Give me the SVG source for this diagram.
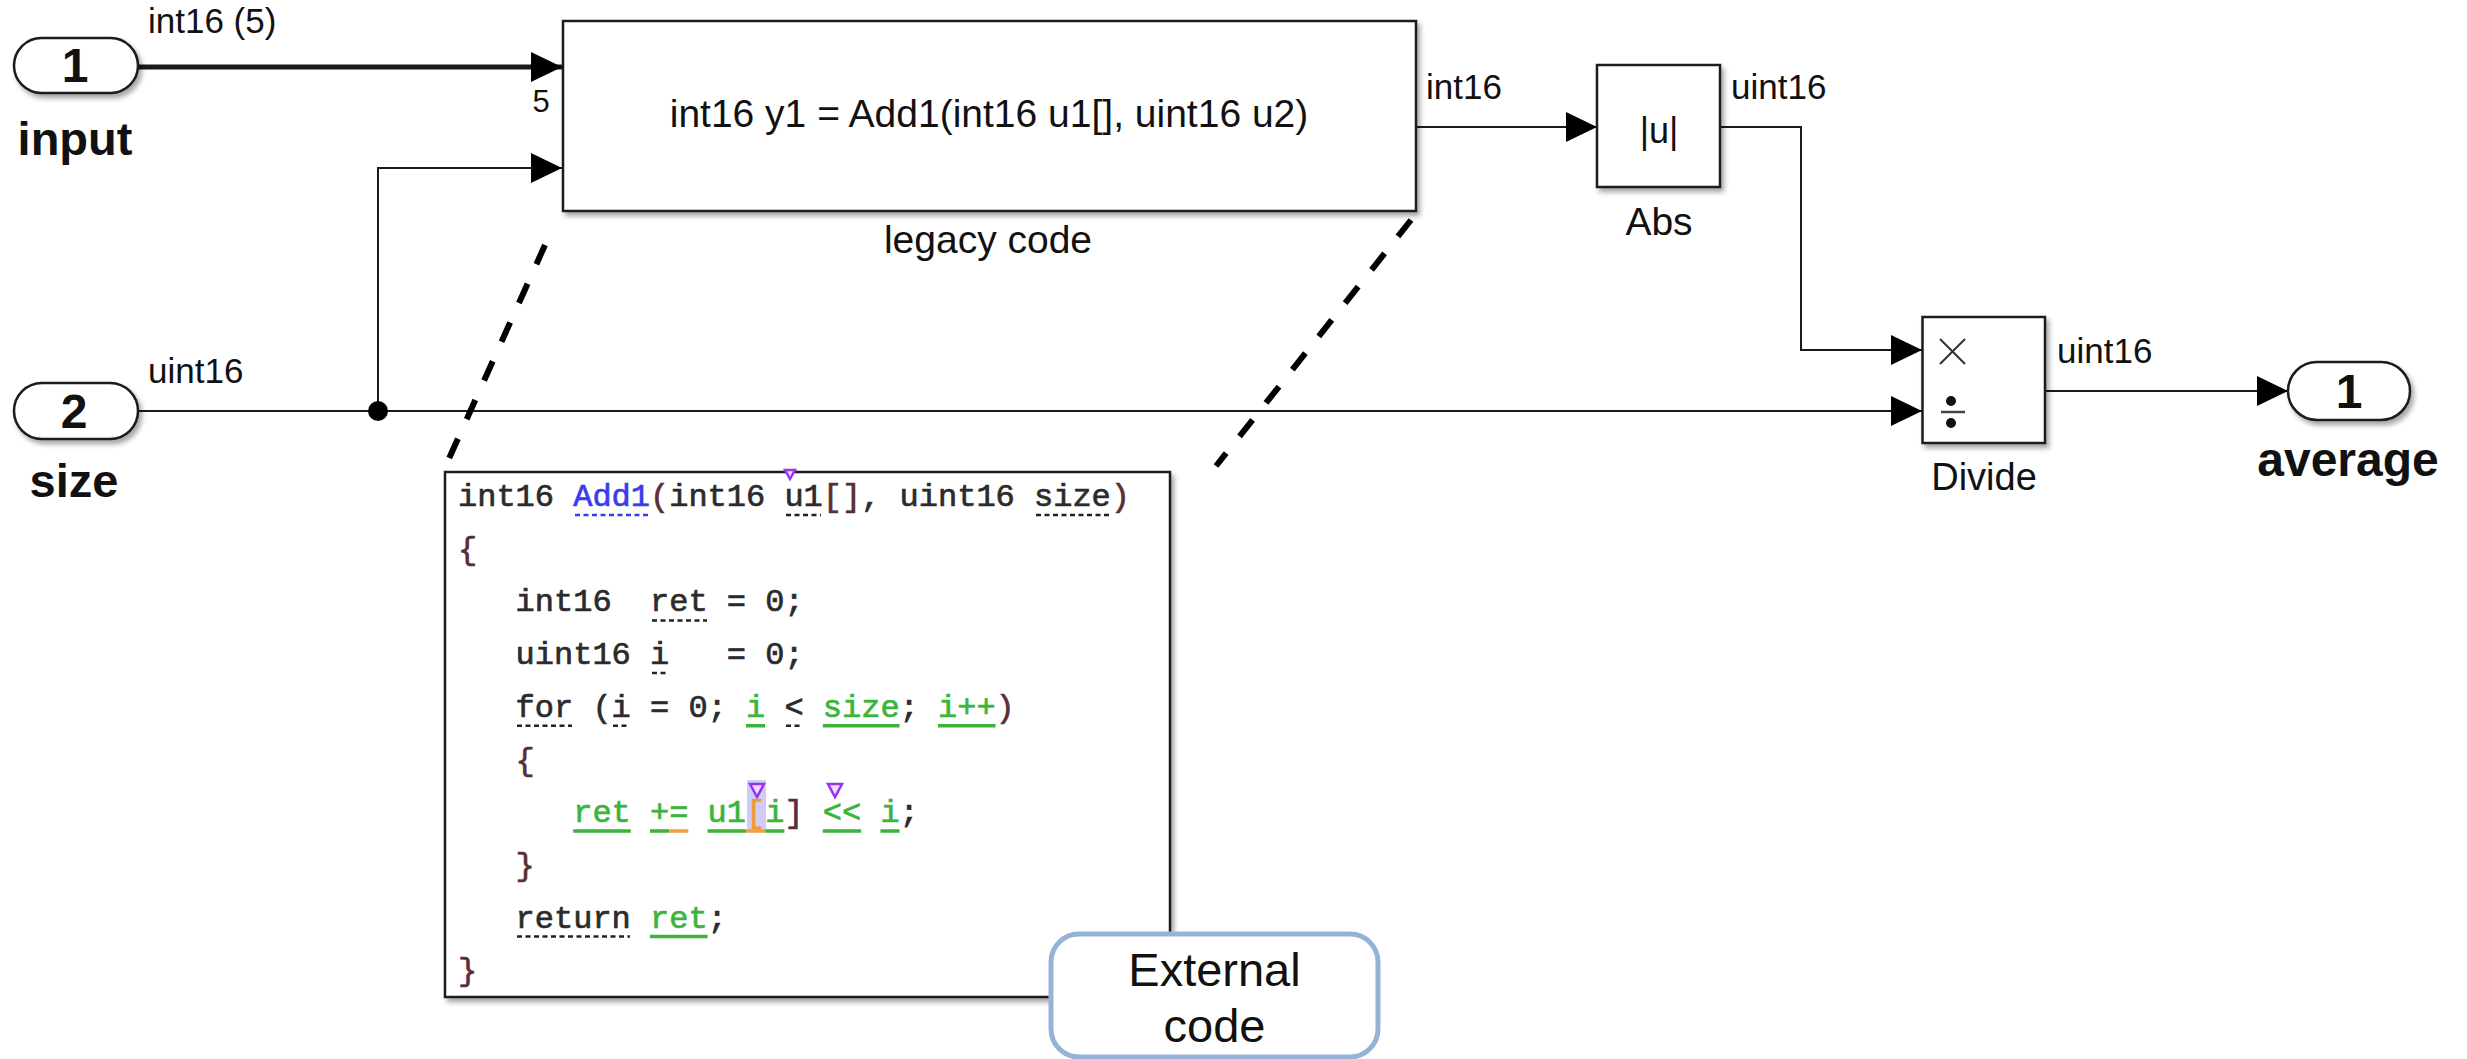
<svg xmlns="http://www.w3.org/2000/svg" width="2467" height="1059" viewBox="0 0 2467 1059">
<style>
.lbl{font-family:"Liberation Sans",Arial,sans-serif;fill:#111;}
.edge{font-size:35px;}
.blk{fill:#fff;stroke:#1a1a1a;stroke-width:2.5;}
.port{fill:#fff;stroke:#1a1a1a;stroke-width:2.5;}
.pn{font-family:"Liberation Sans",Arial,sans-serif;font-weight:bold;font-size:48px;fill:#111;text-anchor:middle;}
.pname{font-family:"Liberation Sans",Arial,sans-serif;font-weight:bold;font-size:47px;fill:#111;text-anchor:middle;}
.ln{fill:none;stroke:#1a1a1a;stroke-width:2;}
.code{font-family:"Liberation Mono","Courier New",monospace;font-size:32px;fill:#2b2b2b;stroke:#2b2b2b;stroke-width:0.7;}
.p{fill:#5a2d3a;stroke:#5a2d3a;}
.g{fill:#3cb43c;stroke:#3cb43c;}
.o{fill:#f09a30;stroke:#f09a30;}
.b{fill:#3a3af0;stroke:#3a3af0;}
.dot{stroke:#222;stroke-width:2.5;stroke-dasharray:5 3.5;fill:none;}
.dotb{stroke:#3a3af0;stroke-width:2.5;stroke-dasharray:5 3.5;fill:none;}
.ug{stroke:#3cb43c;stroke-width:3.5;fill:none;}
.uo{stroke:#f0a040;stroke-width:3.5;fill:none;}
.mk{fill:#ecdcff;stroke:#9933ee;stroke-width:2.5;}
.dash{stroke:#000;stroke-width:6;stroke-dasharray:21 21.5;fill:none;}
</style>
<defs>
<filter id="sh" x="-10%" y="-10%" width="130%" height="130%">
<feDropShadow dx="3" dy="4" stdDeviation="2.5" flood-color="#000" flood-opacity="0.35"/>
</filter>
<marker id="ah" markerUnits="userSpaceOnUse" markerWidth="32" markerHeight="30" refX="31" refY="15" orient="auto">
<path d="M0,0 L31,15 L0,30 z" fill="#000"/>
</marker>
</defs>
<rect width="2467" height="1059" fill="#fff"/>

<g id="connectors">
<path class="ln" d="M138,67 H562" style="stroke-width:5" marker-end="url(#ah)"/>
<path class="ln" d="M378,411 V168 H562" marker-end="url(#ah)"/>
<path class="ln" d="M138,411 H1922" marker-end="url(#ah)"/>
<path class="ln" d="M1416,127 H1597" marker-end="url(#ah)"/>
<path class="ln" d="M1720,127 H1801 V350 H1922" marker-end="url(#ah)"/>
<path class="ln" d="M2045,391 H2288" marker-end="url(#ah)"/>
<circle cx="378" cy="411" r="10" fill="#000"/>
<text class="lbl edge" x="148" y="33">int16 (5)</text>
<text class="lbl" x="541" y="112" font-size="31" text-anchor="middle">5</text>
<text class="lbl edge" x="148" y="383">uint16</text>
<text class="lbl edge" x="1426" y="99">int16</text>
<text class="lbl edge" x="1731" y="99">uint16</text>
<text class="lbl edge" x="2057" y="363">uint16</text>
<path class="dash" d="M545,245 L447,463"/>
<path class="dash" d="M1411,220 L1216,466"/>
</g>

<g id="inport-input">
<rect class="port" x="14" y="38" width="124" height="55" rx="27.5" filter="url(#sh)"/>
<text class="pn" x="75" y="82">1</text>
<text class="pname" x="75" y="155">input</text>
</g>

<g id="inport-size">
<rect class="port" x="14" y="383" width="124" height="56" rx="28" filter="url(#sh)"/>
<text class="pn" x="74" y="428">2</text>
<text class="pname" x="74" y="497">size</text>
</g>

<g id="legacy-code">
<rect class="blk" x="563" y="21" width="853" height="190" filter="url(#sh)"/>
<text class="lbl" x="989" y="127" font-size="39" text-anchor="middle">int16 y1 = Add1(int16 u1[], uint16 u2)</text>
<text class="lbl" x="988" y="253" font-size="39" text-anchor="middle">legacy code</text>
</g>

<g id="abs">
<rect class="blk" x="1597" y="65" width="123" height="122" filter="url(#sh)"/>
<text class="lbl" x="1659" y="143" font-size="36" text-anchor="middle">|u|</text>
<text class="lbl" x="1659" y="235" font-size="39" text-anchor="middle">Abs</text>
</g>

<g id="divide">
<rect class="blk" x="1922.5" y="317" width="122.5" height="126" filter="url(#sh)"/>
<path d="M1940,339 L1965,364 M1965,339 L1940,364" stroke="#333" stroke-width="2" fill="none"/>
<path d="M1941,412 H1965" stroke="#444" stroke-width="2.5"/>
<circle cx="1951" cy="401" r="5" fill="#111"/>
<circle cx="1951" cy="423" r="5" fill="#111"/>
<text class="lbl" x="1984" y="490" font-size="38" text-anchor="middle">Divide</text>
</g>

<g id="outport-average">
<rect class="port" x="2288" y="362" width="122" height="58" rx="29" filter="url(#sh)"/>
<text class="pn" x="2349" y="408">1</text>
<text class="pname" x="2348" y="476" style="font-size:48px">average</text>
</g>

<g id="code-box">
<rect x="445" y="472" width="725" height="525" fill="#fff" stroke="#1a1a1a" stroke-width="2.5" filter="url(#sh)"/>
<rect x="747" y="780" width="19" height="50" fill="#cfcdf5"/>
<polygon class="mk" points="785,470 795,470 790,479"/>
<polygon class="mk" points="750,784 764,784 757,797"/>
<polygon class="mk" points="828,784 842,784 835,797"/>
<text class="code" y="506"><tspan x="458">int16</tspan><tspan x="573.2" class="b">Add1</tspan><tspan x="650" class="p">(</tspan><tspan x="669.2">int16</tspan><tspan x="784.4">u1</tspan><tspan x="822.8" class="p">[]</tspan><tspan x="861.2">,</tspan><tspan x="899.6">uint16</tspan><tspan x="1034">size</tspan><tspan x="1110.8" class="p">)</tspan></text>
<text class="code p" x="458" y="558.7">{</text>
<text class="code" y="611.4"><tspan x="515.6">int16</tspan><tspan x="650">ret</tspan><tspan x="726.8">=</tspan><tspan x="765.2">0;</tspan></text>
<text class="code" y="664"><tspan x="515.6">uint16</tspan><tspan x="650">i</tspan><tspan x="726.8">=</tspan><tspan x="765.2">0;</tspan></text>
<text class="code" y="716.8"><tspan x="515.6">for</tspan><tspan x="592.4">(</tspan><tspan x="611.6">i</tspan><tspan x="650">=</tspan><tspan x="688.4">0;</tspan><tspan x="746" class="g">i</tspan><tspan x="784.4">&lt;</tspan><tspan x="822.8" class="g">size</tspan><tspan x="899.6">;</tspan><tspan x="938" class="g">i++</tspan><tspan x="995.6" class="p">)</tspan></text>
<text class="code p" x="515.6" y="769.5">{</text>
<text class="code" y="822"><tspan x="573.2" class="g">ret</tspan><tspan x="650" class="g">+=</tspan><tspan x="707.6" class="g">u1</tspan><tspan x="746" class="o">[</tspan><tspan x="765.2" class="g">i</tspan><tspan x="784.4" class="p">]</tspan><tspan x="822.8" class="g">&lt;&lt;</tspan><tspan x="880.4" class="g">i</tspan><tspan x="899.6">;</tspan></text>
<text class="code p" x="515.6" y="875">}</text>
<text class="code" y="927.6"><tspan x="515.6">return</tspan><tspan x="650" class="g">ret</tspan><tspan x="707.6">;</tspan></text>
<text class="code p" x="458" y="980">}</text>
<path class="dotb" d="M575,515 H648"/>
<path class="dot" d="M786,515 H821 M1036,515 H1109"/>
<path class="dot" d="M652,620.4 H707"/>
<path class="dot" d="M652,673 H668"/>
<path class="dot" d="M517,725.8 H572 M613,725.8 H629 M786,725.8 H802"/>
<path class="ug" d="M746,725.8 H765 M822.8,725.8 H899.6 M938,725.8 H995.6"/>
<path class="ug" d="M573.2,831 H630.8 M650,831 H669.2 M707.6,831 H746 M765.2,831 H784.4 M822.8,831 H861.2 M880.4,831 H899.6"/>
<path class="uo" d="M669.2,831 H688.4 M746,831 H765.2"/>
<path class="dot" d="M517,936.6 H630"/>
<path class="ug" d="M650,936.6 H707.6"/>
</g>

<g id="external-code">
<rect x="1051" y="934" width="327" height="123" rx="28" fill="#fff" stroke="#95b3d7" stroke-width="5"/>
<text class="lbl" x="1214.5" y="986" font-size="47" text-anchor="middle">External</text>
<text class="lbl" x="1214.5" y="1042" font-size="47" text-anchor="middle">code</text>
</g>
</svg>
